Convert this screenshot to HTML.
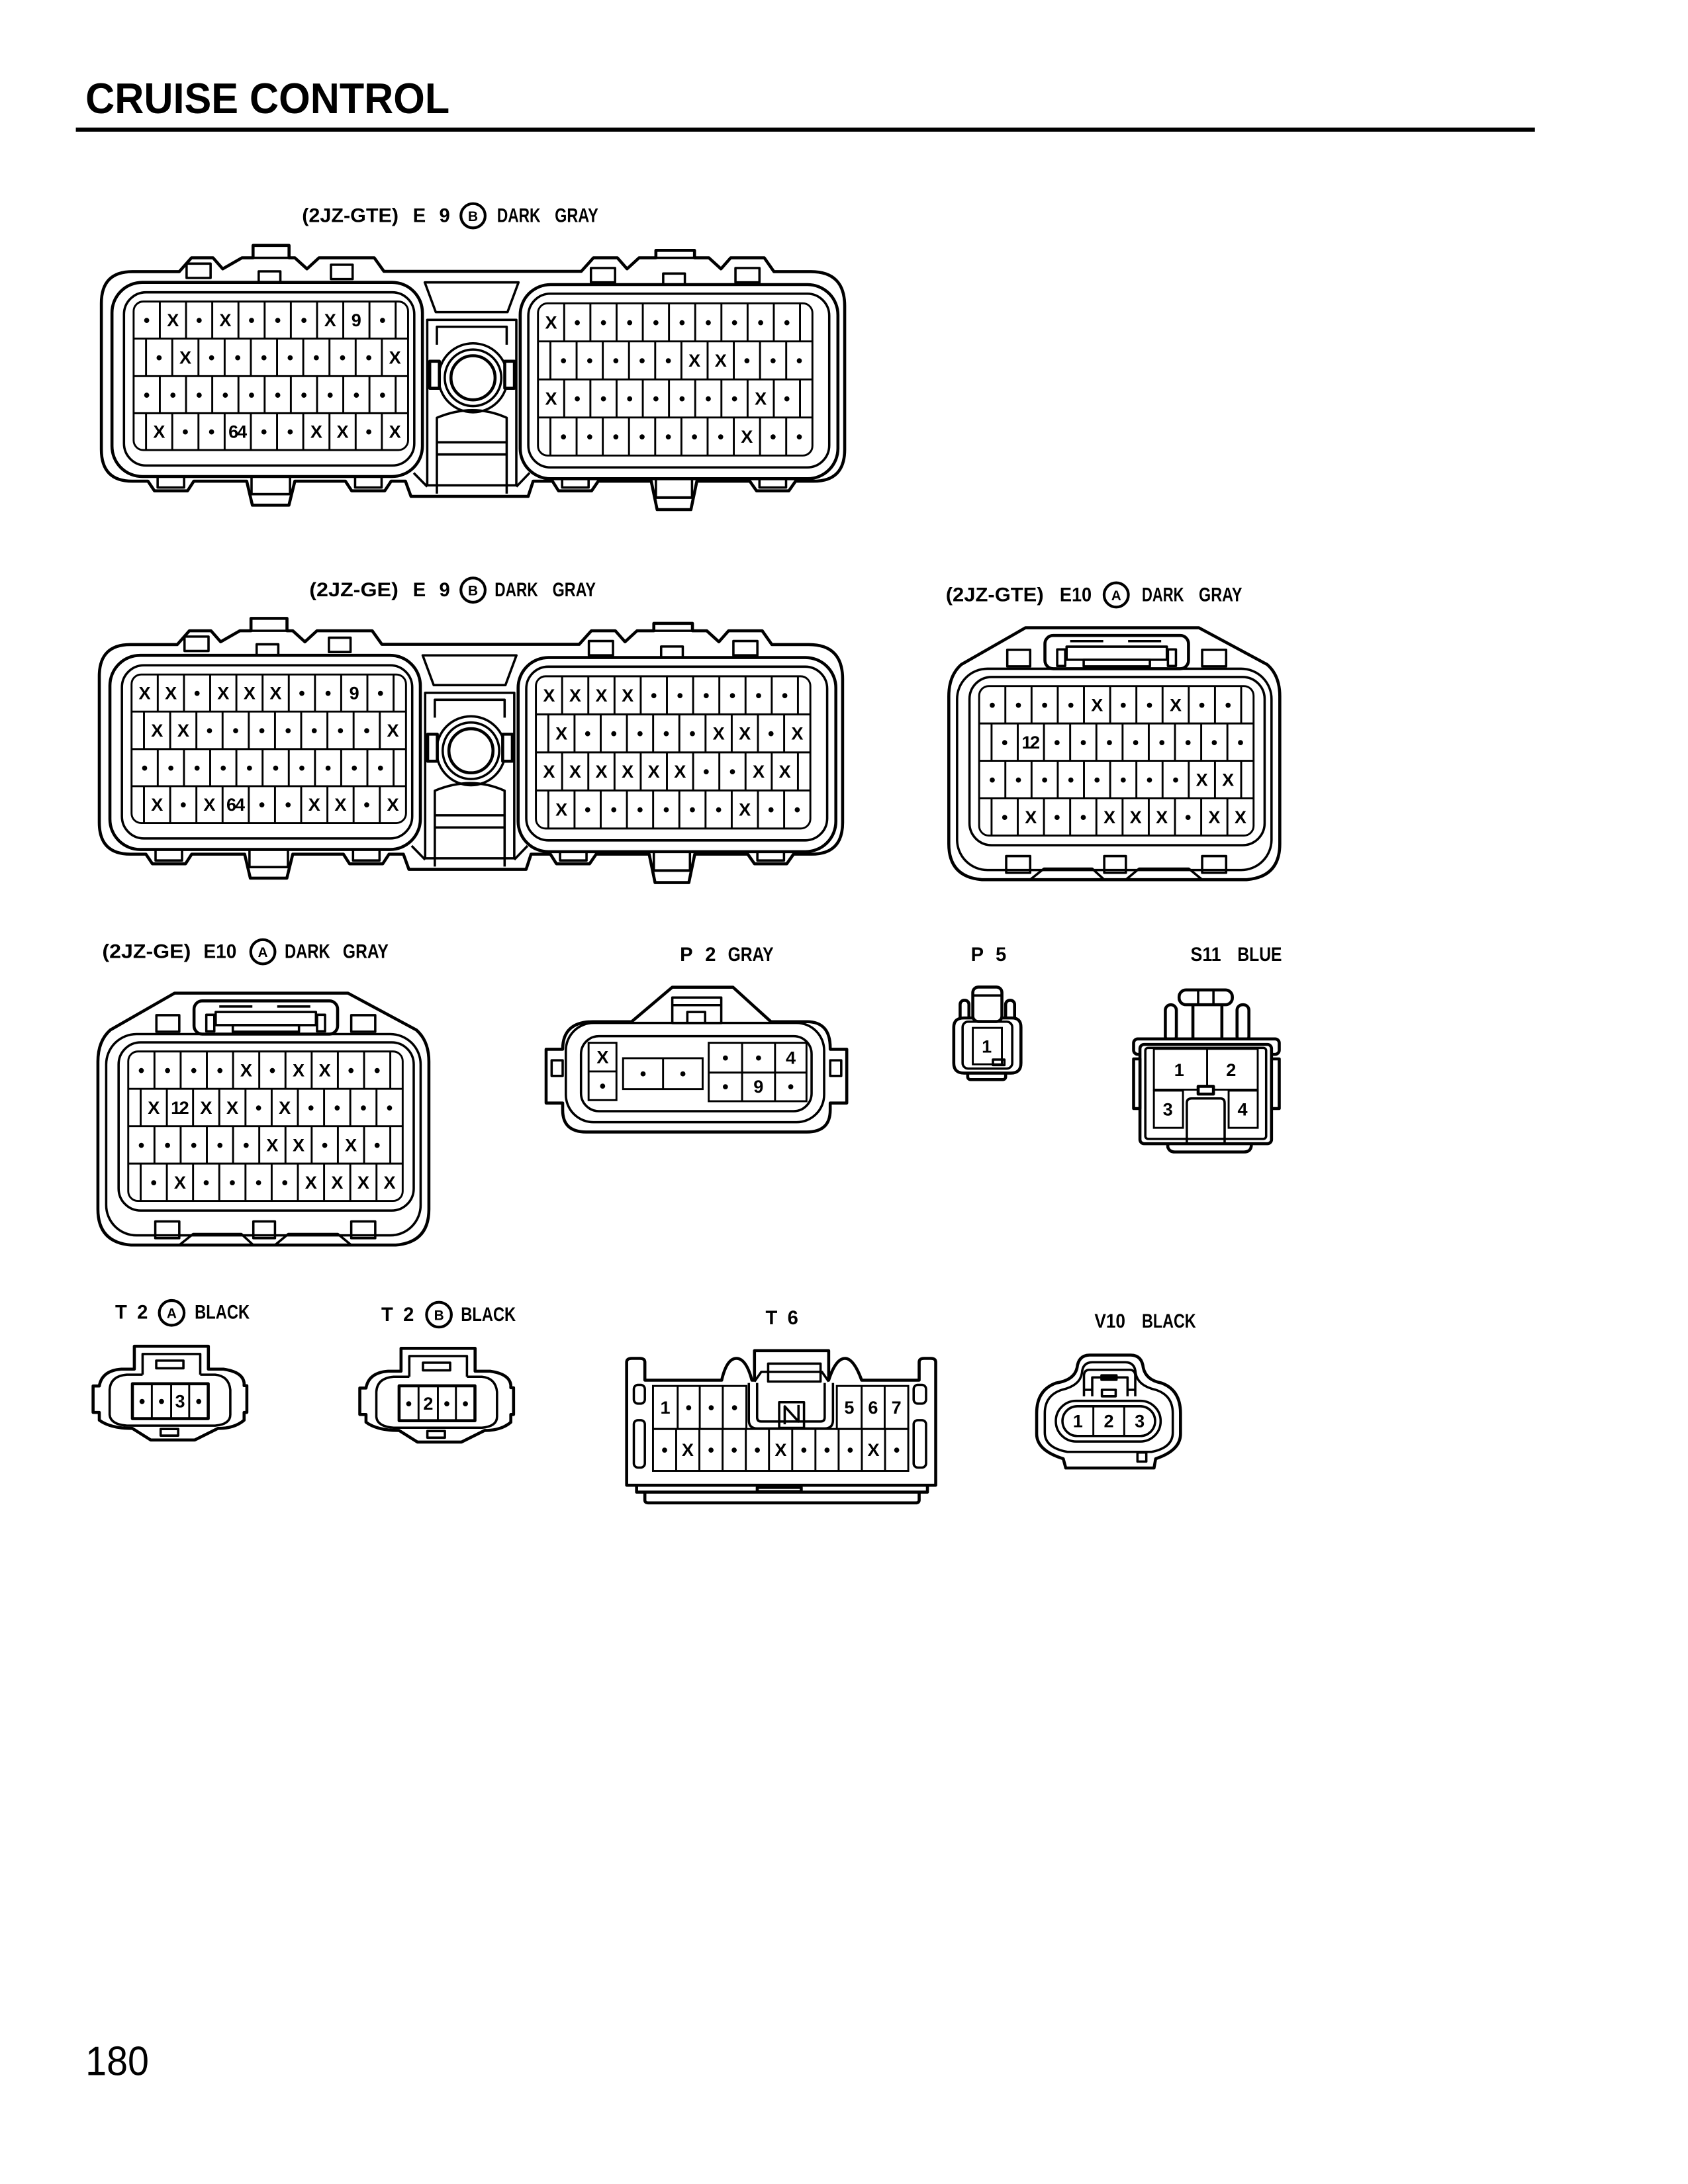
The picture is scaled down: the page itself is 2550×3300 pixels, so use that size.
<!DOCTYPE html>
<html><head><meta charset="utf-8"><style>
html,body{margin:0;padding:0;background:#fff}
svg{display:block}
.o{fill:#fff;stroke:#000;stroke-width:2.2;stroke-linejoin:round}
.l{fill:none;stroke:#000;stroke-width:1.7;stroke-linejoin:round}
.g{fill:none;stroke:#000;stroke-width:1.4}
.c{font-family:"Liberation Sans Narrow","Liberation Sans",sans-serif;font-size:13px;font-weight:bold;text-anchor:middle;fill:#000}
.lb{font-family:"Liberation Sans Narrow","Liberation Sans",sans-serif;font-size:14px;font-weight:bold;fill:#000}
.cl{font-family:"Liberation Sans",sans-serif;font-size:10px;font-weight:bold;text-anchor:middle}
.ci{fill:#fff;stroke:#000;stroke-width:2}
</style></head><body>
<svg width="2550" height="3300" viewBox="0 0 1224 1584" xmlns="http://www.w3.org/2000/svg">
<rect width="1224" height="1584" fill="#fff"/>
<text x="62" y="82" font-family="Liberation Sans, sans-serif" font-weight="bold" font-size="31" textLength="264" lengthAdjust="spacingAndGlyphs">CRUISE CONTROL</text>
<rect x="55" y="92.5" width="1058" height="3"/>
<text x="62" y="1505" font-family="Liberation Sans, sans-serif" font-size="30" textLength="46" lengthAdjust="spacingAndGlyphs">180</text>

<defs>
<g id="e9">
<path class="o" d="M96 197 L130 197 L138.8 187 L154.5 187 L161.5 195 L175.4 187 L183.5 187 L183.5 178 L209.6 178 L209.6 187 L213.8 187 L222.6 195 L231.3 187 L271.4 187 L278.4 196.8 L421.5 196.8 L430.3 187 L447.7 187 L454.7 195 L463.4 187 L475.6 187 L475.6 181.6 L503.6 181.6 L503.6 187 L514 187 L522.8 195 L529.8 187 L554.2 187 L561.2 197 L588 197 Q612.5 197 612.5 222 L612.5 326 Q612.5 349 590 349 L576.9 349 L572 356 L548.6 356 L543.7 349 L505.3 349 L501 369.6 L476.5 369.6 L472.2 349 L433.8 349 L429 356 L405 356 L400.6 349 L386.6 349 L383 360 L298 360 L294 349 L283.6 349 L279 356 L255 356 L250.5 349 L213.8 349 L209.5 366.4 L183 366.4 L178.9 349 L140.5 349 L136 356 L112 356 L107.3 349 L96 349 Q73.5 349 73.5 326 L73.5 220 Q73.5 197 96 197 Z"/>
<path class="l" d="M183.5 187H209.6M475.6 187H503.6M182.4 358.4H210M475.6 361H502"/>
<g class="l">
<rect x="135.3" y="191.2" width="17.4" height="10.4"/><rect x="187.6" y="196.8" width="15.7" height="8"/><rect x="240" y="192" width="15.7" height="10.4"/>
<rect x="428.5" y="194.4" width="17.5" height="10.4"/><rect x="480.9" y="198.4" width="15.7" height="8"/><rect x="533.3" y="194.4" width="17.4" height="10.4"/>
<rect x="114.3" y="342.8" width="19.2" height="10.8"/><rect x="182.4" y="342.4" width="27.9" height="16"/><rect x="257.5" y="342.8" width="19.2" height="10.8"/>
<rect x="407.6" y="342.8" width="19.2" height="10.8"/><rect x="475.6" y="342.8" width="26.2" height="18"/><rect x="550.7" y="342.8" width="19.3" height="10.8"/>
</g>
<rect class="o" x="81.2" y="204.8" width="225.1" height="140.8" rx="22"/>
<rect class="l" x="89.9" y="212" width="210.5" height="125.6" rx="16"/>
<rect class="g" x="96.9" y="218.7" width="199" height="107.7" rx="7"/>
<rect class="o" x="377.2" y="206.4" width="230.4" height="140.8" rx="22"/>
<rect class="l" x="383.1" y="213" width="218.2" height="126" rx="16"/>
<rect class="g" x="390.1" y="220" width="199" height="110.4" rx="7"/>
<path class="l" d="M308 204.8 L376 204.8 L368 226.4 L316 226.4 Z"/>
<rect class="l" x="309.8" y="232" width="64.6" height="120"/>
<path class="l" d="M316.8 250 V237 H367.4 V250"/>
<circle class="l" cx="343" cy="274" r="25"/>
<circle class="l" cx="343" cy="274" r="20.5"/>
<circle class="o" cx="343" cy="274" r="16"/>
<rect class="o" x="311.6" y="262" width="7" height="19.6"/>
<rect class="o" x="366" y="262" width="7" height="19.6"/>
<path class="l" d="M316.8 358 V303 Q343 292 367.4 303 V358 M316.8 320.8H367.4 M316.8 329.6H367.4 M300 343 L309.8 353 M384 343 L374.4 353"/>
<path class="g" d="M96.9 245.6H295.9M96.9 272.8H295.9M96.9 299.7H295.9
M115.9 218.7v26.9m19-26.9v26.9m19-26.9v26.9m19-26.9v26.9m19-26.9v26.9m19-26.9v26.9m19-26.9v26.9m19-26.9v26.9m19-26.9v26.9m19-26.9v26.9
M105.9 245.6v27.2m19-27.2v27.2m19-27.2v27.2m19-27.2v27.2m19-27.2v27.2m19-27.2v27.2m19-27.2v27.2m19-27.2v27.2m19-27.2v27.2m19-27.2v27.2
M115.9 272.8v26.9m19-26.9v26.9m19-26.9v26.9m19-26.9v26.9m19-26.9v26.9m19-26.9v26.9m19-26.9v26.9m19-26.9v26.9m19-26.9v26.9m19-26.9v26.9
M105.9 299.7v26.7m19-26.7v26.7m19-26.7v26.7m19-26.7v26.7m19-26.7v26.7m19-26.7v26.7m19-26.7v26.7m19-26.7v26.7m19-26.7v26.7m19-26.7v26.7
M390.1 247.6H589.1M390.1 275.2H589.1M390.1 302.8H589.1
M409.1 220v27.6m19-27.6v27.6m19-27.6v27.6m19-27.6v27.6m19-27.6v27.6m19-27.6v27.6m19-27.6v27.6m19-27.6v27.6m19-27.6v27.6m19-27.6v27.6
M399.1 247.6v27.6m19-27.6v27.6m19-27.6v27.6m19-27.6v27.6m19-27.6v27.6m19-27.6v27.6m19-27.6v27.6m19-27.6v27.6m19-27.6v27.6m19-27.6v27.6
M409.1 275.2v27.6m19-27.6v27.6m19-27.6v27.6m19-27.6v27.6m19-27.6v27.6m19-27.6v27.6m19-27.6v27.6m19-27.6v27.6m19-27.6v27.6m19-27.6v27.6
M399.1 302.8v27.6m19-27.6v27.6m19-27.6v27.6m19-27.6v27.6m19-27.6v27.6m19-27.6v27.6m19-27.6v27.6m19-27.6v27.6m19-27.6v27.6m19-27.6v27.6"/>
</g>
<g id="e10">
<path class="o" d="M743.6 455.3 L869.3 455.3 L918.9 482 Q928 490 928 505 L928 612 Q928 636 904 638 L712 638 Q688 636 688 612 L688 505 Q688 490 697 482 Z"/>
<rect class="l" x="694" y="485" width="228" height="146" rx="22"/>
<rect class="l" x="703" y="491" width="214" height="122" rx="16"/>
<rect class="g" x="710" y="497.6" width="199" height="108.4" rx="7"/>
<rect class="o" x="757.7" y="460.9" width="104.1" height="24.1" rx="6"/>
<rect class="l" x="773.4" y="469" width="72.7" height="9.5"/>
<rect class="l" x="785.8" y="478.5" width="48" height="4.8"/>
<path class="l" d="M776 465H800M818 465H842"/>
<rect class="l" x="766.6" y="471" width="5.8" height="12"/>
<rect class="l" x="846.9" y="471" width="5.8" height="12"/>
<rect class="l" x="730.4" y="471.3" width="16.6" height="12"/>
<rect class="l" x="871.7" y="471.3" width="17.4" height="12"/>
<rect class="l" x="729.6" y="620.9" width="17.4" height="12.1"/>
<rect class="l" x="800.7" y="620.9" width="15.7" height="12.1"/>
<rect class="l" x="871.7" y="620.9" width="17.4" height="12.1"/>
<path class="l" d="M747 638 L757 630 L792 630 L800.7 638 M816.4 638 L826 630 L862 630 L871.7 638"/>
<path class="g" d="M710 524.7H909M710 551.8H909M710 578.9H909
M729 497.6v27.1m19-27.1v27.1m19-27.1v27.1m19-27.1v27.1m19-27.1v27.1m19-27.1v27.1m19-27.1v27.1m19-27.1v27.1m19-27.1v27.1m19-27.1v27.1
M719 524.7v27.1m19-27.1v27.1m19-27.1v27.1m19-27.1v27.1m19-27.1v27.1m19-27.1v27.1m19-27.1v27.1m19-27.1v27.1m19-27.1v27.1m19-27.1v27.1
M729 551.8v27.1m19-27.1v27.1m19-27.1v27.1m19-27.1v27.1m19-27.1v27.1m19-27.1v27.1m19-27.1v27.1m19-27.1v27.1m19-27.1v27.1m19-27.1v27.1
M719 578.9v27.1m19-27.1v27.1m19-27.1v27.1m19-27.1v27.1m19-27.1v27.1m19-27.1v27.1m19-27.1v27.1m19-27.1v27.1m19-27.1v27.1m19-27.1v27.1"/>
</g>
<g id="t2">
<path class="o" d="M97.4 993 L97.4 976.4 L151.1 976.4 L151.1 993 L162 993 Q176 995 177 1003 L177 1005 L179 1005 L179 1024.4 L177 1024.4 L177 1030 Q170 1036 158 1036 L141.2 1044.4 L109.3 1044.4 L96 1036 Q80 1036 72 1030 L72 1024.4 L67.5 1024.4 L67.5 1005.2 L72 1005.2 Q74 994 88 993 Z"/>
<path class="l" d="M103.4 997 V982 H145.2 V997 M103.4 997 H92 Q80 998 79.5 1008 V1026 Q80 1033 92 1034 H156 Q167 1033 167 1026 V1008 Q166 998 156 997 H145.2"/>
<rect class="l" x="113.3" y="986.8" width="19.7" height="5.6"/>
<rect class="l" x="116.5" y="1036.4" width="12.7" height="4.8"/>
<rect class="o" x="96" y="1003.6" width="55" height="25.3"/>
<path class="g" d="M110.1 1003.6V1028.9M124.1 1003.6V1028.9M137.2 1003.6V1028.9"/>
</g>
</defs>

<use href="#e9"/>
<text class="c" x="106.4 125.4 144.4 163.4 182.4 201.4 220.4 239.4 258.4 277.4" y="236.7">•X•X•••X9•</text>
<text class="c" x="115.4 134.4 153.4 172.4 191.4 210.4 229.4 248.4 267.4 286.4" y="263.7">•X•••••••X</text>
<text class="c" x="106.4 125.4 144.4 163.4 182.4 201.4 220.4 239.4 258.4 277.4" y="290.8">••••••••••</text>
<text class="c" x="115.4 134.4 153.4 169.3 175.5 191.4 210.4 229.4 248.4 267.4 286.4" y="317.6">X••64••XX•X</text>
<text class="c" x="399.6 418.6 437.6 456.6 475.6 494.6 513.6 532.6 551.6 570.6" y="238.3">X•••••••••</text>
<text class="c" x="408.6 427.6 446.6 465.6 484.6 503.6 522.6 541.6 560.6 579.6" y="265.9">•••••XX•••</text>
<text class="c" x="399.6 418.6 437.6 456.6 475.6 494.6 513.6 532.6 551.6 570.6" y="293.5">X•••••••X•</text>
<text class="c" x="408.6 427.6 446.6 465.6 484.6 503.6 522.6 541.6 560.6 579.6" y="321.1">•••••••X••</text>
<text class="lb" x="219" y="161" textLength="70" lengthAdjust="spacingAndGlyphs">(2JZ-GTE)</text>
<text class="lb" x="299.4" y="161">E</text><text class="lb" x="318.5" y="161">9</text>
<circle class="ci" cx="343" cy="156.5" r="8.8"/><text class="cl" x="343" y="160.3">B</text>
<text class="lb" x="360.4" y="161" textLength="31.5" lengthAdjust="spacingAndGlyphs">DARK</text>
<text class="lb" x="402.3" y="161" textLength="31.5" lengthAdjust="spacingAndGlyphs">GRAY</text>

<g transform="translate(-1.5 270.5)">
<use href="#e9"/>
<text class="c" x="106.4 125.4 144.4 163.4 182.4 201.4 220.4 239.4 258.4 277.4" y="236.7">XX•XXX••9•</text>
<text class="c" x="115.4 134.4 153.4 172.4 191.4 210.4 229.4 248.4 267.4 286.4" y="263.7">XX•••••••X</text>
<text class="c" x="106.4 125.4 144.4 163.4 182.4 201.4 220.4 239.4 258.4 277.4" y="290.8">••••••••••</text>
<text class="c" x="115.4 134.4 153.4 169.3 175.5 191.4 210.4 229.4 248.4 267.4 286.4" y="317.6">X•X64••XX•X</text>
<text class="c" x="399.6 418.6 437.6 456.6 475.6 494.6 513.6 532.6 551.6 570.6" y="238.3">XXXX••••••</text>
<text class="c" x="408.6 427.6 446.6 465.6 484.6 503.6 522.6 541.6 560.6 579.6" y="265.9">X•••••XX•X</text>
<text class="c" x="399.6 418.6 437.6 456.6 475.6 494.6 513.6 532.6 551.6 570.6" y="293.5">XXXXXX••XX</text>
<text class="c" x="408.6 427.6 446.6 465.6 484.6 503.6 522.6 541.6 560.6 579.6" y="321.1">X••••••X••</text>
</g>
<text class="lb" x="224.3" y="432.5" textLength="64.6" lengthAdjust="spacingAndGlyphs">(2JZ-GE)</text>
<text class="lb" x="299.4" y="432.5">E</text><text class="lb" x="318.5" y="432.5">9</text>
<circle class="ci" cx="343" cy="428" r="8.8"/><text class="cl" x="343" y="431.8">B</text>
<text class="lb" x="358.7" y="432.5" textLength="31.4" lengthAdjust="spacingAndGlyphs">DARK</text>
<text class="lb" x="400.6" y="432.5" textLength="31.4" lengthAdjust="spacingAndGlyphs">GRAY</text>

<use href="#e10"/>
<text class="c" x="719.5 738.5 757.5 776.5 795.5 814.5 833.5 852.5 871.5 890.5" y="515.7">••••X••X••</text>
<text class="c" x="728.5 744.5 750.5 766.5 785.5 804.5 823.5 842.5 861.5 880.5 899.5" y="542.8">•12••••••••</text>
<text class="c" x="719.5 738.5 757.5 776.5 795.5 814.5 833.5 852.5 871.5 890.5" y="569.9">••••••••XX</text>
<text class="c" x="728.5 747.5 766.5 785.5 804.5 823.5 842.5 861.5 880.5 899.5" y="597">•X••XXX•XX</text>
<text class="lb" x="685.8" y="436" textLength="71" lengthAdjust="spacingAndGlyphs">(2JZ-GTE)</text>
<text class="lb" x="768.4" y="436" textLength="23.2" lengthAdjust="spacingAndGlyphs">E10</text>
<circle class="ci" cx="809.4" cy="431.5" r="8.8"/><text class="cl" x="809.4" y="435.3">A</text>
<text class="lb" x="828" y="436" textLength="30.5" lengthAdjust="spacingAndGlyphs">DARK</text>
<text class="lb" x="869.3" y="436" textLength="31.4" lengthAdjust="spacingAndGlyphs">GRAY</text>

<g transform="translate(-617 265)">
<use href="#e10"/>
<text class="c" x="719.5 738.5 757.5 776.5 795.5 814.5 833.5 852.5 871.5 890.5" y="515.7">••••X•XX••</text>
<text class="c" x="728.5 744.5 750.5 766.5 785.5 804.5 823.5 842.5 861.5 880.5 899.5" y="542.8">X12XX•X••••</text>
<text class="c" x="719.5 738.5 757.5 776.5 795.5 814.5 833.5 852.5 871.5 890.5" y="569.9">•••••XX•X•</text>
<text class="c" x="728.5 747.5 766.5 785.5 804.5 823.5 842.5 861.5 880.5 899.5" y="597">•X••••XXXX</text>
</g>
<text class="lb" x="74.1" y="694.7" textLength="64.3" lengthAdjust="spacingAndGlyphs">(2JZ-GE)</text>
<text class="lb" x="147.6" y="694.7" textLength="23.9" lengthAdjust="spacingAndGlyphs">E10</text>
<circle class="ci" cx="190.6" cy="690.3" r="8.8"/><text class="cl" x="190.6" y="694.1">A</text>
<text class="lb" x="206.4" y="694.7" textLength="33" lengthAdjust="spacingAndGlyphs">DARK</text>
<text class="lb" x="248.6" y="694.7" textLength="33.1" lengthAdjust="spacingAndGlyphs">GRAY</text>

<text class="lb" x="493" y="697">P</text><text class="lb" x="511.3" y="697">2</text>
<text class="lb" x="527.8" y="697" textLength="33.1" lengthAdjust="spacingAndGlyphs">GRAY</text>
<path class="o" d="M430 741 L458 741 L487.5 716 L531.5 716 L559 741 L585 741 Q602 741 602 760 L602 761 L614 761 L614 800 L602 800 L602 805 Q602 821 585 821 L425 821 Q408 821 408 805 L408 800 L396 800 L396 761 L408 761 Q408 741 430 741 Z"/>
<rect class="l" x="400" y="769" width="8" height="11.3"/><rect class="l" x="602" y="769" width="8" height="11.3"/>
<rect class="l" x="487.5" y="723.5" width="35.5" height="18.5"/>
<path class="l" d="M487.5 729H523M498.4 742V734H511.3V742"/>
<rect class="l" x="410.3" y="741.9" width="187.3" height="72" rx="20"/>
<rect class="l" x="421.3" y="751.5" width="167.2" height="54.4" rx="13"/>
<rect class="g" x="426.8" y="756.3" width="20.2" height="41.6"/><path class="g" d="M426.8 777.1H447"/>
<rect class="g" x="451.8" y="767.5" width="57.7" height="22.4"/><path class="g" d="M480.8 767.5V789.9"/>
<rect class="g" x="513.9" y="756.3" width="70.9" height="42.4"/><path class="g" d="M513.9 777.9H584.8M538.1 756.3V798.7M562 756.3V798.7"/>
<text class="c" x="437" y="771.2">X</text><text class="c" x="437" y="792">•</text>
<text class="c" x="466.3 495.2" y="783.2">••</text>
<text class="c" x="526 550 573.4" y="771.5">••4</text>
<text class="c" x="526 550 573.4" y="792.5">•9•</text>

<text class="lb" x="704" y="697">P</text><text class="lb" x="721.9" y="697">5</text>
<rect class="o" x="696.2" y="725.5" width="6.4" height="17" rx="3"/>
<rect class="o" x="729.2" y="725.5" width="6.5" height="17" rx="3"/>
<rect class="o" x="701.7" y="775" width="27.5" height="8" rx="2"/>
<path class="o" d="M699 738.3 H733.8 Q740.3 738.3 740.3 745 V771 Q740.3 778.3 733 778.3 H699 Q691.6 778.3 691.6 771 V745 Q691.6 738.3 699 738.3 Z"/>
<rect class="o" x="705.4" y="715.9" width="21.1" height="25" rx="4"/>
<path class="l" d="M705.4 722H726.5"/>
<rect class="l" x="698" y="741" width="36" height="34" rx="4"/>
<rect class="g" x="705.4" y="745.5" width="21.1" height="26.4"/>
<rect class="l" x="720" y="768.5" width="8.3" height="4"/>
<text class="c" x="715.5" y="763.5">1</text>

<text class="lb" x="863.3" y="697" textLength="22.1" lengthAdjust="spacingAndGlyphs">S11</text>
<text class="lb" x="897.3" y="697" textLength="32.2" lengthAdjust="spacingAndGlyphs">BLUE</text>
<rect class="o" x="845" y="728.7" width="8" height="27" rx="4"/>
<rect class="o" x="897" y="728.7" width="8.6" height="27" rx="4"/>
<rect class="o" x="865" y="725" width="21" height="32"/>
<rect class="o" x="855" y="718" width="38.6" height="10.7" rx="5"/>
<path class="l" d="M868.8 718V728.7M879.9 718V728.7"/>
<rect class="o" x="822" y="753.5" width="105.6" height="11.2" rx="3"/>
<path class="o" d="M846.8 829.5 V832 Q848 835.5 852 835.5 H902 Q907.4 835.5 907.4 830"/>
<rect class="o" x="826.6" y="757.5" width="95.4" height="72" rx="3"/>
<rect class="l" x="830.5" y="760" width="87.6" height="66" rx="2"/>
<rect class="o" x="822" y="768" width="4.6" height="36"/>
<rect class="o" x="922" y="768" width="5.6" height="36"/>
<rect class="g" x="836.7" y="760.7" width="75.3" height="29.6"/><path class="g" d="M875.3 760.7V790.3"/>
<rect class="g" x="836.7" y="791" width="21.1" height="27"/>
<rect class="g" x="890.9" y="791" width="21.1" height="27"/>
<path class="l" d="M860.6 829.5 V800 Q860.6 796.7 864 796.7 H885 Q888 796.7 888 800 V829.5"/>
<rect class="o" x="868.8" y="787.9" width="11.1" height="5.6"/>
<text class="c" x="855" y="780.5">1</text><text class="c" x="892.7" y="780.5">2</text>
<text class="c" x="846.8" y="809">3</text><text class="c" x="901" y="809">4</text>

<use href="#t2"/>
<text class="c" x="103 117.1 130.6 144.1" y="1020.8">••3•</text>
<text class="lb" x="83.5" y="956.4">T</text><text class="lb" x="99.4" y="956.4">2</text>
<circle class="ci" cx="124.5" cy="952.2" r="9"/><text class="cl" x="124.5" y="956">A</text>
<text class="lb" x="141.2" y="956.4" textLength="39.8" lengthAdjust="spacingAndGlyphs">BLACK</text>
<g transform="translate(193.4 1.5)">
<use href="#t2"/>
<text class="c" x="103 117.1 130.6 144.1" y="1020.8">•2••</text>
</g>
<text class="lb" x="276.5" y="958">T</text><text class="lb" x="292.4" y="958">2</text>
<circle class="ci" cx="318.3" cy="953.5" r="9"/><text class="cl" x="318.3" y="957.3">B</text>
<text class="lb" x="334.2" y="958" textLength="39.8" lengthAdjust="spacingAndGlyphs">BLACK</text>

<text class="lb" x="555.1" y="960.4">T</text><text class="lb" x="571" y="960.4">6</text>
<path class="o" d="M467.6 1082 V1088 Q467.6 1090 470 1090 H664 Q666.5 1090 666.5 1088 V1082"/>
<rect class="o" x="461.6" y="1077.2" width="210.9" height="5"/>
<rect class="o" x="549.1" y="1078.8" width="31.9" height="3"/>
<path class="o" d="M454.4 1077.2 V988 Q454.4 985.2 458 985.2 H464 Q467.6 985.2 467.6 988 V1001 H523.3 Q527 985.2 534 985.2 Q541 985.2 545.2 1001 H547.1 V979.6 H600.9 V1001 Q606 985.2 612.8 985.2 Q619 985.2 624.8 1001 H666.5 V988 Q666.5 985.2 670 985.2 H675 Q678.5 985.2 678.5 988 V1077.2 Z"/>
<rect class="l" x="557" y="989" width="38" height="13"/>
<path class="l" d="M547.1 1002 L552 995 H596 L600.9 1002"/>
<rect class="l" x="459.6" y="1004.4" width="8" height="13.6" rx="3"/>
<rect class="l" x="459.6" y="1030" width="8" height="34.4" rx="3"/>
<rect class="l" x="662.5" y="1004.4" width="9" height="13.6" rx="3"/>
<rect class="l" x="662.5" y="1030" width="9" height="34.4" rx="3"/>
<path class="l" d="M543 1003 V1030 Q543 1036 549 1036 H598 Q604 1036 604 1030 V1003 M549 1003 V1028 Q549 1031 552 1031 H595 Q598 1031 598 1028 V1003"/>
<rect class="l" x="565" y="1017" width="18" height="18.6"/>
<path class="l" d="M569 1033 V1020 L579 1031 V1019"/>
<rect class="g" x="473.5" y="1005.2" width="67.7" height="31.2"/>
<path class="g" d="M491.4 1005.2V1036.4M507.4 1005.2V1036.4M524.1 1005.2V1036.4"/>
<rect class="g" x="606.8" y="1005.2" width="51.8" height="31.2"/>
<path class="g" d="M624.8 1005.2V1036.4M641.5 1005.2V1036.4"/>
<rect class="g" x="473.5" y="1036.4" width="185.1" height="30.4"/>
<path class="g" d="M490.3 1036.4v30.4m16.83-30.4v30.4m16.83-30.4v30.4m16.83-30.4v30.4m16.83-30.4v30.4m16.83-30.4v30.4m16.83-30.4v30.4m16.83-30.4v30.4m16.83-30.4v30.4m16.83-30.4v30.4"/>
<text class="c" x="482.4 499.4 515.7 532.6" y="1025.3">1•••</text>
<text class="c" x="615.8 633.1 650" y="1025.3">567</text>
<text class="c" x="481.9 498.7 515.6 532.4 549.2 566.1 582.9 599.7 616.5 633.4 650.2" y="1056.1">•X•••X•••X•</text>

<text class="lb" x="793.6" y="963" textLength="22.4" lengthAdjust="spacingAndGlyphs">V10</text>
<text class="lb" x="828" y="963" textLength="39.2" lengthAdjust="spacingAndGlyphs">BLACK</text>
<path class="o" d="M790 982.8 L820 982.8 Q828 983 829 992 Q831 1001 842 1003 Q856 1008 856 1025 L856 1040 Q856 1052 838 1058 L836.8 1064.7 L772.8 1064.7 L771 1058 Q751.7 1052 751.7 1040 L751.7 1025 Q751.7 1008 766 1003 Q779 1001 781 992 Q782 983 790 982.8 Z"/>
<path class="l" d="M792 988 L816 988 Q823 988 823.5 996 Q825 1005 838 1008 Q850.4 1012 850.4 1025 L850.4 1039 Q850.4 1050 835 1053 L774 1053 Q757.6 1050 757.6 1039 L757.6 1025 Q757.6 1012 770 1008 Q783 1005 784.5 996 Q785 988 792 988 Z"/>
<path class="l" d="M786 1012.7 V998 Q786 993.5 790 993.5 H819 Q823.2 993.5 823.2 998 V1012.7 M792 1012.7 V999 H817.6 V1012.7 M786 1008 H792 M817.6 1008 H823.2"/>
<rect class="l" x="798.7" y="997.5" width="10.9" height="3.2"/>
<rect class="l" x="799" y="1008" width="10" height="4.7"/>
<rect class="l" x="824.8" y="1053.5" width="6.4" height="6.5"/>
<rect class="l" x="765.6" y="1016" width="76" height="29.5" rx="14.7"/>
<rect class="l" x="770.4" y="1019.9" width="67.2" height="21.6" rx="10.8"/>
<path class="g" d="M792.8 1019.9V1041.5M815.2 1019.9V1041.5"/>
<text class="c" x="781.6 804 826.4" y="1035">123</text>
</svg>
</body></html>
